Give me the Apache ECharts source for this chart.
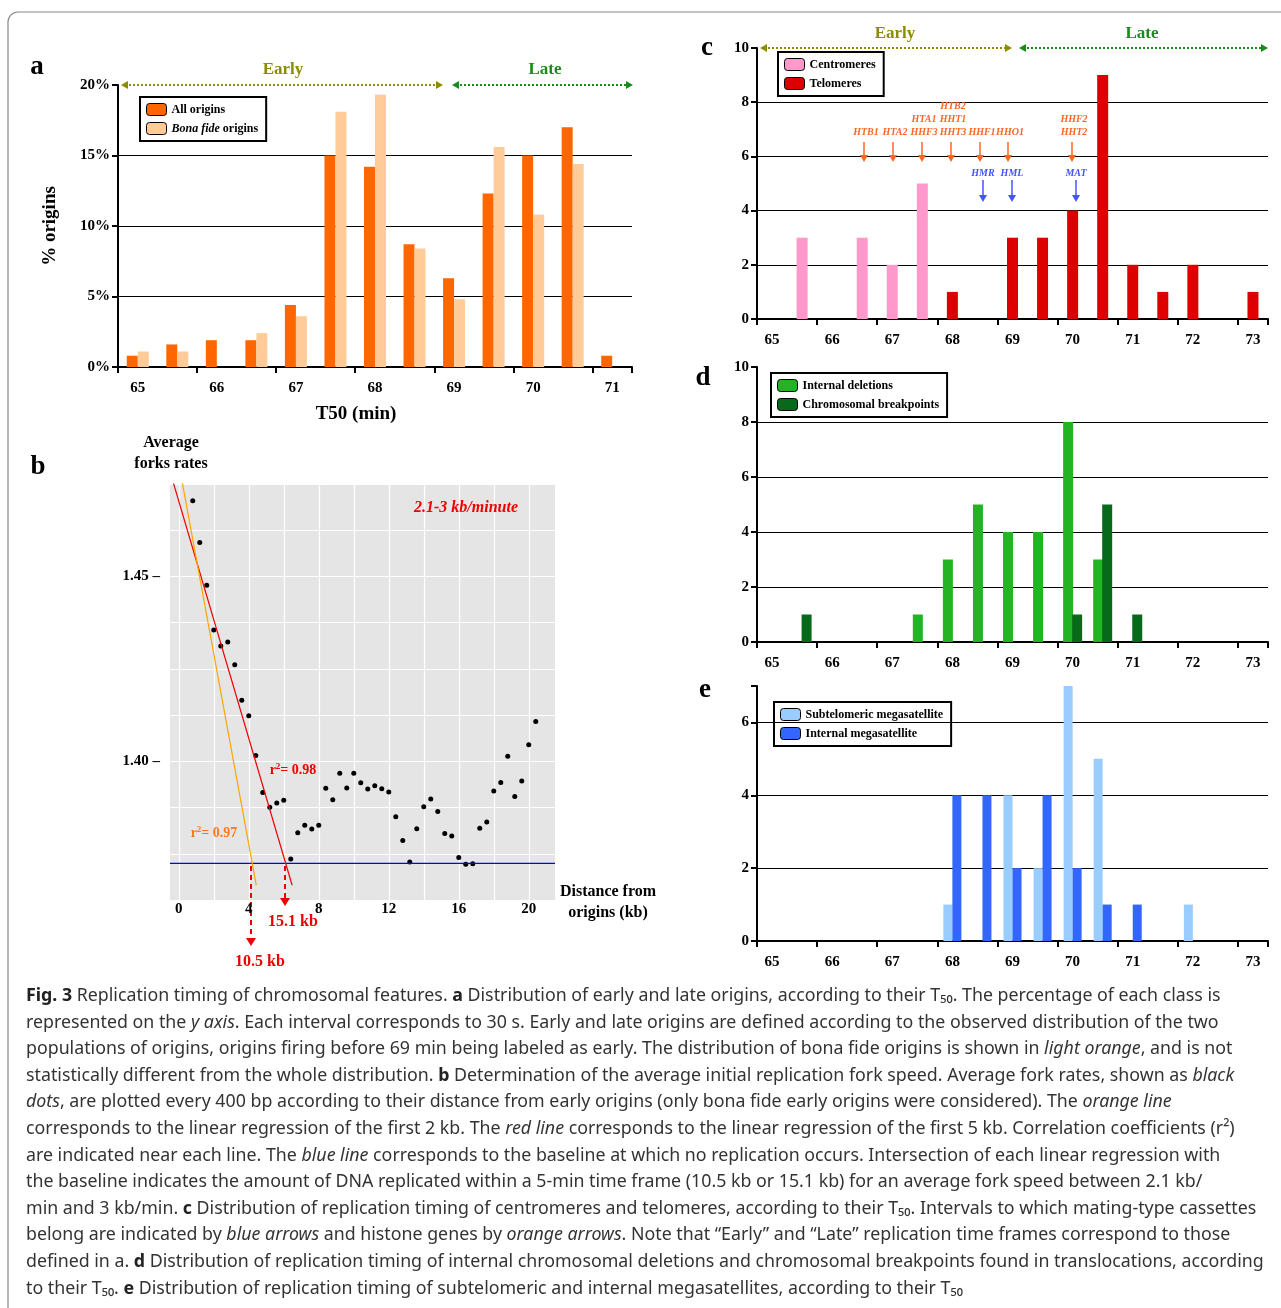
<!DOCTYPE html>
<html>
<head>
<meta charset="utf-8">
<script src="https://cdn.jsdelivr.net/npm/echarts@6/dist/echarts.min.js"></script>
<style>
  html, body { margin: 0; padding: 0; background: #fff; }
  #main { width: 1281px; height: 1308px; }
</style>
</head>
<body>
<div id="main"></div>
<script>
// panel a : % origins per 30 s bin
const binsA = ['65', '65.5', '66', '66.5', '67', '67.5', '68', '68.5', '69', '69.5', '70', '70.5', '71'];
const allOrigins = [0.8, 1.6, 1.9, 1.9, 4.4, 15.0, 14.2, 8.7, 6.3, 12.3, 15.0, 17.0, 0.8];
const bonaFide = [1.1, 1.1, 0, 2.4, 3.6, 18.1, 19.3, 8.4, 4.8, 15.6, 10.8, 14.4, 0];

// panel b : average fork rates every 400 bp
const distKb = [];
for (let i = 0; i < 50; i++) distKb.push(+(0.8 + i * 0.4).toFixed(1));
const forkRates = [1.4705, 1.4592, 1.4476, 1.4355, 1.4312, 1.4323, 1.4261, 1.4165, 1.4123, 1.4016,
  1.3916, 1.3876, 1.3887, 1.3895, 1.3736, 1.3807, 1.3827, 1.3817, 1.3827, 1.3927,
  1.3896, 1.3968, 1.3928, 1.3968, 1.3942, 1.3925, 1.3934, 1.3926, 1.3917, 1.3850,
  1.3786, 1.3728, 1.3818, 1.3877, 1.3898, 1.3864, 1.3805, 1.3798, 1.3740, 1.3722,
  1.3723, 1.3819, 1.3836, 1.3920, 1.3943, 1.4014, 1.3905, 1.3947, 1.4045, 1.4108];
const baseline = [[-0.5, 1.3724], [21.5, 1.3724]];
const redFit = [[-0.5, 1.4784], [6.48, 1.3665]];
const orangeFit = [[0.0, 1.4806], [4.43, 1.3665]];

// panels c, d, e : counts per 30 s bin
const binsC = ['65', '65.5', '66', '66.5', '67', '67.5', '68', '68.5', '69', '69.5', '70', '70.5', '71', '71.5', '72', '72.5', '73'];
const centromeres = [0, 3, 0, 3, 2, 5, 0, 0, 0, 0, 0, 0, 0, 0, 0, 0, 0];
const telomeres = [0, 0, 0, 0, 0, 0, 1, 0, 3, 3, 4, 9, 2, 1, 2, 0, 1];
const internalDeletions = [0, 0, 0, 0, 0, 1, 3, 5, 4, 4, 8, 3, 0, 0, 0, 0, 0];
const breakpoints = [0, 1, 0, 0, 0, 0, 0, 0, 0, 0, 1, 5, 1, 0, 0, 0, 0];
const subtelomeric = [0, 0, 0, 0, 0, 0, 1, 0, 4, 2, 7, 5, 0, 0, 1, 0, 0];
const internalMega = [0, 0, 0, 0, 0, 0, 4, 4, 2, 4, 2, 1, 1, 0, 0, 0, 0];

const serif = 'Liberation Serif';
const chart = echarts.init(document.getElementById('main'));

const catX = (idx, data) => ({
  type: 'category', gridIndex: idx, data: data,
  axisLine: { lineStyle: { color: '#000', width: 2 } },
  axisTick: { show: true, length: 6, lineStyle: { color: '#000', width: 2 } },
  axisLabel: { interval: 1, color: '#000', fontFamily: serif, fontWeight: 'bold', fontSize: 15, margin: 14 }
});
const valY = (idx, max, interval, fmt) => ({
  type: 'value', gridIndex: idx, min: 0, max: max, interval: interval,
  axisLine: { show: true, lineStyle: { color: '#000', width: 2 } },
  axisTick: { show: true, length: 6, lineStyle: { color: '#000', width: 2 } },
  axisLabel: { color: '#000', fontFamily: serif, fontWeight: 'bold', fontSize: 15, formatter: fmt },
  splitLine: { show: true, showMaxLine: false, lineStyle: { color: '#000', width: 1 } }
});
const legendBox = (left, top, names, extra) => Object.assign({
  left: left, top: top, orient: 'vertical', data: names,
  itemWidth: 20, itemHeight: 12, itemGap: 6,
  borderColor: '#000', borderWidth: 2, padding: [6, 8, 6, 6],
  itemStyle: { borderColor: '#000', borderWidth: 1 },
  textStyle: { fontFamily: serif, fontWeight: 'bold', fontSize: 12, color: '#000' }
}, extra || {});
const clear = 'rgba(0,0,0,0)';

chart.setOption({
  backgroundColor: '#fff',
  animation: false,
  grid: [
    { left: 118, top: 85, width: 514, height: 282 },
    { left: 170, top: 484, width: 385, height: 416, show: true, backgroundColor: '#e5e5e5', borderWidth: 0 },
    { left: 757, top: 48, width: 511, height: 271 },
    { left: 757, top: 367, width: 511, height: 275 },
    { left: 757, top: 686, width: 511, height: 255 }
  ],
  xAxis: [
    catX(0, binsA),
    {
      type: 'value', gridIndex: 1, min: -0.5, max: 21.5, interval: 0.5,
      axisLine: { show: false },
      axisTick: { show: false },
      axisLabel: { color: '#000', fontFamily: serif, fontWeight: 'bold', fontSize: 15, margin: 2,
        formatter: v => (v >= 0 && v <= 20 && Math.abs(v % 4) < 1e-6) ? String(v) : '' },
      splitLine: { show: true, lineStyle: { color: [clear, '#fff', clear, clear], width: 1.2 } }
    },
    catX(2, binsC), catX(3, binsC), catX(4, binsC)
  ],
  yAxis: [
    valY(0, 20, 5, v => v + '%'),
    {
      type: 'value', gridIndex: 1, min: 1.3625, max: 1.475, interval: 0.0125,
      axisLine: { show: false },
      axisTick: { show: false },
      axisLabel: { color: '#000', fontFamily: serif, fontWeight: 'bold', fontSize: 15, margin: 10,
        formatter: v => Math.abs(v - 1.4) < 1e-6 ? '1.40 –' : (Math.abs(v - 1.45) < 1e-6 ? '1.45 –' : '') },
      splitLine: { show: true, lineStyle: { color: '#fff', width: 1.2 } }
    },
    valY(2, 10, 2), valY(3, 10, 2),
    valY(4, 7, 2, v => v > 6 ? '' : String(v))
  ],
  legend: [
    legendBox(140, 97, ['All origins', 'Bona fide origins'], {
      formatter: n => n === 'Bona fide origins' ? '{i|Bona fide} origins' : n,
      textStyle: { fontFamily: serif, fontWeight: 'bold', fontSize: 12, color: '#000',
        rich: { i: { fontFamily: serif, fontWeight: 'bold', fontStyle: 'italic', fontSize: 12, color: '#000' } } }
    }),
    legendBox(778, 52, ['Centromeres', 'Telomeres']),
    legendBox(771, 373, ['Internal deletions', 'Chromosomal breakpoints']),
    legendBox(774, 702, ['Subtelomeric megasatellite', 'Internal megasatellite'])
  ],
  series: [
    { name: 'All origins', type: 'bar', xAxisIndex: 0, yAxisIndex: 0, data: allOrigins, barWidth: 11, barGap: '0%', itemStyle: { color: '#ff6600' } },
    { name: 'Bona fide origins', type: 'bar', xAxisIndex: 0, yAxisIndex: 0, data: bonaFide, barWidth: 11, barGap: '0%', itemStyle: { color: '#ffcc99' } },

    { name: 'baseline', type: 'line', xAxisIndex: 1, yAxisIndex: 1, data: baseline, symbol: 'none',
      lineStyle: { color: '#0000ff', width: 1.2 } },
    { name: 'fork', type: 'scatter', xAxisIndex: 1, yAxisIndex: 1, symbolSize: 5, itemStyle: { color: '#000', opacity: 1 },
      data: distKb.map((d, i) => [d, forkRates[i]]) },
    { name: 'red', type: 'line', xAxisIndex: 1, yAxisIndex: 1, data: redFit, symbol: 'none', clip: true,
      lineStyle: { color: '#ee0000', width: 1.2 } },
    { name: 'orange', type: 'line', xAxisIndex: 1, yAxisIndex: 1, data: orangeFit, symbol: 'none', clip: true,
      lineStyle: { color: '#ffa500', width: 1.2 } },

    { name: 'Centromeres', type: 'bar', stack: 'c', xAxisIndex: 2, yAxisIndex: 2, data: centromeres, barWidth: 11, itemStyle: { color: '#ff99cc' } },
    { name: 'Telomeres', type: 'bar', stack: 'c', xAxisIndex: 2, yAxisIndex: 2, data: telomeres, barWidth: 11, itemStyle: { color: '#dd0000' } },

    { name: 'Internal deletions', type: 'bar', xAxisIndex: 3, yAxisIndex: 3, data: internalDeletions, barWidth: 10, barGap: '-10%', itemStyle: { color: '#22b422' } },
    { name: 'Chromosomal breakpoints', type: 'bar', xAxisIndex: 3, yAxisIndex: 3, data: breakpoints, barWidth: 10, barGap: '-10%', itemStyle: { color: '#066a1a' } },

    { name: 'Subtelomeric megasatellite', type: 'bar', xAxisIndex: 4, yAxisIndex: 4, data: subtelomeric, barWidth: 9, barGap: '0%', itemStyle: { color: '#99ccff' } },
    { name: 'Internal megasatellite', type: 'bar', xAxisIndex: 4, yAxisIndex: 4, data: internalMega, barWidth: 9, barGap: '0%', itemStyle: { color: '#3366ff' } }
  ]
});

// ---- annotations (letters, early/late bars, arrows, caption) ----
const g = [];
const txt = (x, y, text, font, fill, extra) => g.push(Object.assign({
  type: 'text', x: x, y: y, silent: true,
  style: Object.assign({ text: text, font: font, fill: fill, align: 'center', verticalAlign: 'middle' }, (extra && extra.style) || {})
}, extra && extra.rotation ? { rotation: extra.rotation } : {}));
const boldSerif = s => 'bold ' + s + 'px "' + serif + '"';

g.push({ type: 'rect', silent: true, shape: { x: 8, y: 12, width: 1290, height: 1310, r: 10 },
  style: { fill: 'none', stroke: '#888', lineWidth: 1.2 } });

[['a', 37, 67], ['b', 38, 467], ['c', 707, 48], ['d', 703, 378], ['e', 705, 690]].forEach(p =>
  txt(p[1], p[2], p[0], boldSerif(27), '#000'));

// early/late ranges
const range = (x1, x2, y, color) => {
  g.push({ type: 'line', silent: true, shape: { x1: x1 + 4, y1: y, x2: x2 - 4, y2: y },
    style: { stroke: color, lineWidth: 2, lineDash: [2, 2] } });
  g.push({ type: 'polygon', silent: true, shape: { points: [[x1, y], [x1 + 7, y - 4], [x1 + 7, y + 4]] }, style: { fill: color } });
  g.push({ type: 'polygon', silent: true, shape: { points: [[x2, y], [x2 - 7, y - 4], [x2 - 7, y + 4]] }, style: { fill: color } });
};
range(121, 443, 85, '#8c8c00'); range(452, 633, 85, '#1a8a1a');
range(760, 1012, 48, '#8c8c00'); range(1019, 1268, 48, '#1a8a1a');
txt(283, 70, 'Early', boldSerif(17), '#8c8c00'); txt(545, 70, 'Late', boldSerif(17), '#1a8a1a');
txt(895, 34, 'Early', boldSerif(17), '#8c8c00'); txt(1142, 34, 'Late', boldSerif(17), '#1a8a1a');

// panel a titles
txt(50, 226, '% origins', boldSerif(19), '#000', { rotation: Math.PI / 2 });
txt(356, 414, 'T50 (min)', boldSerif(19), '#000');

// panel c arrows
const arrow = (x, y1, y2, color) => {
  g.push({ type: 'line', silent: true, shape: { x1: x, y1: y1, x2: x, y2: y2 - 5 }, style: { stroke: color, lineWidth: 1.5 } });
  g.push({ type: 'polygon', silent: true, shape: { points: [[x - 4, y2 - 7], [x + 4, y2 - 7], [x, y2]] }, style: { fill: color } });
};
const geneFont = 'italic bold 10px "' + serif + '"';
const histones = [[864, ['HTB1']], [893, ['HTA2']], [922, ['HTA1', 'HHF3']], [951, ['HTB2', 'HHT1', 'HHT3']],
  [980, ['HHF1']], [1008, ['HHO1']], [1072, ['HHF2', 'HHT2']]];
histones.forEach(h => {
  arrow(h[0], 142, 162, '#ff6622');
  h[1].forEach((t, i) => txt(h[0] + 2, 132 - (h[1].length - 1 - i) * 13, t, geneFont, '#ff6622'));
});
[[983, 'HMR'], [1012, 'HML'], [1076, 'MAT']].forEach(m => {
  arrow(m[0], 180, 202, '#4455ff');
  txt(m[0], 173, m[1], geneFont, '#4455ff');
});

// panel b texts and dashed arrows
txt(171, 453, 'Average\nforks rates', boldSerif(16), '#000', { style: { lineHeight: 21 } });
txt(608, 902, 'Distance from\norigins (kb)', boldSerif(16), '#000', { style: { lineHeight: 21 } });
txt(466, 508, '2.1-3 kb/minute', 'italic bold 16px "' + serif + '"', '#ee0000');
txt(293, 770, '{a|r}{s|2}{a|= 0.98}', '', '#ee0000', { style: { rich: {
  a: { font: boldSerif(14), fill: '#ee0000' }, s: { font: boldSerif(9), fill: '#ee0000', verticalAlign: 'top', padding: [0, 0, 6, 0] } } } });
txt(214, 833, '{a|r}{s|2}{a|= 0.97}', '', '#ff7722', { style: { rich: {
  a: { font: boldSerif(14), fill: '#ff7722' }, s: { font: boldSerif(9), fill: '#ff7722', verticalAlign: 'top', padding: [0, 0, 6, 0] } } } });
const dashArrow = (x, y1, y2) => {
  g.push({ type: 'line', silent: true, shape: { x1: x, y1: y1, x2: x, y2: y2 - 6 }, style: { stroke: '#ee0000', lineWidth: 2, lineDash: [5, 4] } });
  g.push({ type: 'polygon', silent: true, shape: { points: [[x - 5, y2 - 8], [x + 5, y2 - 8], [x, y2]] }, style: { fill: '#ee0000' } });
};
dashArrow(251, 866, 946); dashArrow(285, 866, 906);
txt(260, 962, '10.5 kb', boldSerif(16), '#ee0000');
txt(293, 922, '15.1 kb', boldSerif(16), '#ee0000');

// caption
const capLines = [
  '{b|Fig. 3} Replication timing of chromosomal features. {b|a} Distribution of early and late origins, according to their T₅₀. The percentage of each class is',
  'represented on the {i|y axis}. Each interval corresponds to 30 s. Early and late origins are defined according to the observed distribution of the two',
  'populations of origins, origins firing before 69 min being labeled as early. The distribution of bona fide origins is shown in {i|light orange}, and is not',
  'statistically different from the whole distribution. {b|b} Determination of the average initial replication fork speed. Average fork rates, shown as {i|black}',
  '{i|dots}, are plotted every 400 bp according to their distance from early origins (only bona fide early origins were considered). The {i|orange line}',
  'corresponds to the linear regression of the first 2 kb. The {i|red line} corresponds to the linear regression of the first 5 kb. Correlation coefficients (r²)',
  'are indicated near each line. The {i|blue line} corresponds to the baseline at which no replication occurs. Intersection of each linear regression with',
  'the baseline indicates the amount of DNA replicated within a 5-min time frame (10.5 kb or 15.1 kb) for an average fork speed between 2.1 kb/',
  'min and 3 kb/min. {b|c} Distribution of replication timing of centromeres and telomeres, according to their T₅₀. Intervals to which mating-type cassettes',
  'belong are indicated by {i|blue arrows} and histone genes by {i|orange arrows}. Note that “Early” and “Late” replication time frames correspond to those',
  'defined in a. {b|d} Distribution of replication timing of internal chromosomal deletions and chromosomal breakpoints found in translocations, according',
  'to their T₅₀. {b|e} Distribution of replication timing of subtelomeric and internal megasatellites, according to their T₅₀'
];
const capFont = '17.8px "Noto Sans"';
capLines.forEach((l, i) => g.push({
  type: 'text', x: 26, y: 996 + i * 26.6, silent: true,
  style: { text: l, font: capFont, fill: '#333', verticalAlign: 'middle', align: 'left',
    rich: { b: { font: 'bold ' + capFont, fill: '#222' }, i: { font: 'italic ' + capFont, fill: '#333' } } }
}));

chart.setOption({ graphic: g });
</script>
</body>
</html>
